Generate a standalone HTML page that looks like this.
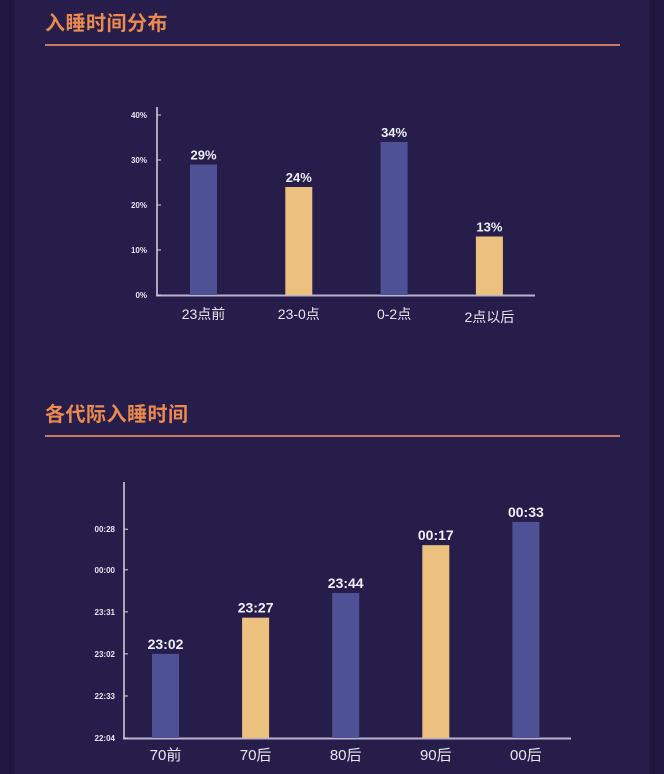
<!DOCTYPE html>
<html><head><meta charset="utf-8"><style>
body{margin:0;width:664px;height:774px;background:#1f1740;font-family:"Liberation Sans","Noto Sans CJK SC",sans-serif;overflow:hidden}
#main{position:absolute;left:15px;top:0;width:634px;height:774px;background:#261d4b}
.title{position:absolute;left:45px;color:#ea8a4e;font-size:20px;font-weight:bold;letter-spacing:0.5px}
.rule{position:absolute;left:45px;width:575px;height:2px;background:#c67a5e}
svg{position:absolute;left:0;top:0}
</style></head><body>
<div id="main"></div>
<div class="title" style="top:7px">入睡时间分布</div>
<div class="rule" style="top:44px"></div>
<div class="title" style="top:398px">各代际入睡时间</div>
<div class="rule" style="top:435px"></div>
<svg id="svg" width="664" height="774"></svg>
<script>
const cats1=["23点前","23-0点","0-2点","2点以后"];
const vals1=[29,24,34,13];
const ticks1=[0,10,20,30,40];
const cats2=["70前","70后","80后","90后","00后"];
const vals2=["23:02","23:27","23:44","00:17","00:33"];
const ticks2=["22:04","22:33","23:02","23:31","00:00","00:28"];
const NS="http://www.w3.org/2000/svg",svg=document.getElementById('svg');
const colors=["#4f5196","#ecc180"];
function mk(t,a,txt){const e=document.createElementNS(NS,t);for(const k in a)e.setAttribute(k,a[k]);if(txt!==undefined)e.textContent=txt;svg.appendChild(e);return e;}
function mins(s){let [h,m]=s.split(':').map(Number);if(h<12)h+=24;return h*60+m;}
// chart 1
const y1=v=>295-v*4.5, x1=i=>203.5+i*95.3;
let e=mk('line',{x1:157,y1:107,x2:157,y2:296,stroke:'#d8d4e6','stroke-width':1.5});

e=mk('line',{x1:156,y1:295.5,x2:535,y2:295.5,stroke:'#b8b4cc','stroke-width':2});

ticks1.forEach(t=>{
 e=mk('line',{x1:157,y1:y1(t),x2:161,y2:y1(t),stroke:'#d8d4e6'});
 
 e=mk('text',{x:147,y:y1(t)+3,fill:'#e8e6f0','font-size':8,'text-anchor':'end','font-weight':'bold'},t+'%');
 
});
vals1.forEach((v,i)=>{
 e=mk('rect',{x:x1(i)-13.5,y:y1(v),width:27,height:295-y1(v),fill:colors[i%2]});
 
 e=mk('text',{x:x1(i),y:y1(v)-5,fill:'#eeeef6','font-size':13,'font-weight':'bold','text-anchor':'middle'},v+'%');
 
 e=mk('text',{x:x1(i),y:i==3?322:319,fill:'#e8e6f0','font-size':14,'text-anchor':'middle'},cats1[i]);
 
});
// chart 2
const base=mins(ticks2[0]);
const y2=s=>738-(mins(s)-base)*1.45, x2=i=>165.5+i*90.1;
e=mk('line',{x1:124,y1:482,x2:124,y2:739,stroke:'#d8d4e6','stroke-width':1.5});

e=mk('line',{x1:123,y1:738.5,x2:571,y2:738.5,stroke:'#b8b4cc','stroke-width':2});

ticks2.forEach(t=>{
 e=mk('line',{x1:124,y1:y2(t),x2:128,y2:y2(t),stroke:'#d8d4e6'});
 
 e=mk('text',{x:115,y:y2(t)+3,fill:'#e8e6f0','font-size':8,'text-anchor':'end','font-weight':'bold'},t);
 
});
vals2.forEach((v,i)=>{
 e=mk('rect',{x:x2(i)-13.5,y:y2(v),width:27,height:738-y2(v),fill:colors[i%2]});
 
 e=mk('text',{x:x2(i),y:y2(v)-5,fill:'#eeeef6','font-size':14,'font-weight':'bold','text-anchor':'middle'},v);
 
 e=mk('text',{x:x2(i),y:760,fill:'#e8e6f0','font-size':15,'text-anchor':'middle'},cats2[i]);
 
});
</script>
</body></html>
